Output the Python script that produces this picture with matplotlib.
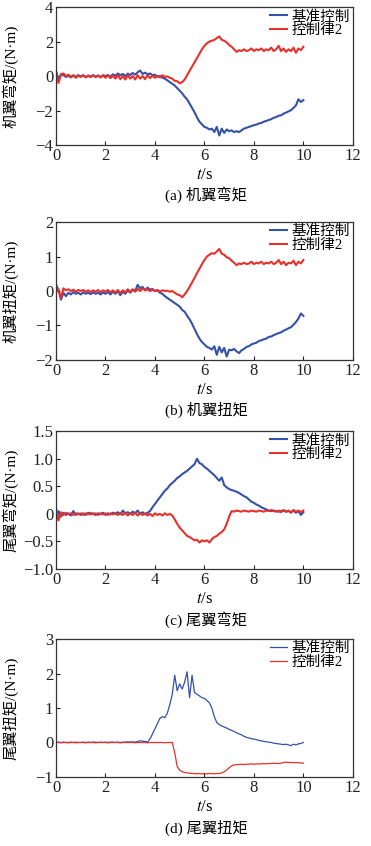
import numpy as np
import matplotlib
matplotlib.use('Agg')
import matplotlib.pyplot as plt
from matplotlib.ticker import FuncFormatter

plt.rcParams['font.family'] = ['Liberation Serif', 'Noto Sans CJK SC']
plt.rcParams['mathtext.fontset'] = 'stix'
plt.rcParams['font.size'] = 9

t = np.round(np.arange(101) * 0.1, 1)  # sample times, 0..10 s

labels = ['基准控制', '控制律2']
ylabels = ['机翼弯矩/(N·m)', '机翼扭矩/(N·m)', '尾翼弯矩/(N·m)', '尾翼扭矩/(N·m)']
captions = ['(a) 机翼弯矩', '(b) 机翼扭矩', '(c) 尾翼弯矩', '(d) 尾翼扭矩']
yticks_list = [[-4, -2, 0, 2, 4], [-2, -1, 0, 1, 2],
               [-1.0, -0.5, 0, 0.5, 1.0, 1.5], [-1, 0, 1, 2, 3]]

# (a) 机翼弯矩
a_base = [0.30, -0.25, 0.10, 0.05, -0.05, 0.02, -0.08, 0.03, -0.04, 0.05,
          -0.02, 0.04, -0.06, 0.02, -0.03, 0.05, -0.04, 0.03, -0.05, 0.04,
          0.00, 0.06, -0.04, 0.10, 0.02, 0.15, 0.05, 0.12, 0.00, 0.14,
          0.06, 0.18, 0.08, 0.22, 0.32, 0.12, 0.20, 0.10, 0.15, 0.05,
          0.08, -0.02, 0.00, -0.10, -0.15, -0.25, -0.35, -0.45, -0.55, -0.70,
          -0.85, -1.00, -1.20, -1.35, -1.60, -1.85, -2.10, -2.40, -2.65, -2.80,
          -2.95, -3.00, -3.10, -3.05, -3.25, -2.95, -3.45, -3.05, -3.30, -3.10,
          -3.20, -3.15, -3.25, -3.20, -3.25, -3.15, -3.05, -3.00, -2.95, -2.90,
          -2.85, -2.82, -2.75, -2.72, -2.65, -2.60, -2.55, -2.50, -2.42, -2.38,
          -2.30, -2.28, -2.18, -2.12, -2.05, -1.98, -1.85, -1.70, -1.35, -1.50,
          -1.40]
a_law2 = [0.20, -0.40, 0.10, 0.15, 0.00, 0.08, -0.05, 0.05, -0.10, 0.02,
          -0.05, 0.05, -0.08, 0.03, -0.06, 0.04, -0.05, 0.02, -0.08, 0.05,
          -0.10, 0.04, -0.12, 0.02, -0.15, 0.05, -0.18, 0.00, -0.20, 0.05,
          -0.15, 0.00, -0.20, 0.05, -0.15, 0.00, -0.18, 0.05, -0.12, 0.02,
          -0.10, 0.00, -0.08, 0.05, -0.05, -0.02, -0.10, -0.15, -0.28, -0.30,
          -0.42, -0.35, -0.20, 0.05, 0.30, 0.55, 0.80, 1.05, 1.30, 1.55,
          1.75, 1.90, 2.00, 2.05, 2.10, 2.20, 2.30, 2.10, 2.05, 1.95,
          1.80, 1.70, 1.55, 1.40, 1.50, 1.45, 1.55, 1.45, 1.50, 1.60,
          1.45, 1.55, 1.50, 1.60, 1.45, 1.55, 1.50, 1.65, 1.45, 1.55,
          1.75, 1.45, 1.60, 1.40, 1.55, 1.45, 1.65, 1.35, 1.60, 1.50,
          1.70]

# (b) 机翼扭矩
b_base = [0.15, 0.05, -0.25, -0.05, -0.15, -0.05, -0.10, -0.03, -0.08, -0.05,
          -0.10, -0.04, -0.08, -0.05, -0.09, -0.04, -0.08, -0.05, -0.10, -0.04,
          -0.08, -0.03, -0.10, -0.02, -0.08, 0.00, -0.12, -0.02, -0.08, 0.02,
          -0.05, 0.05, 0.00, 0.18, 0.08, 0.12, 0.02, 0.10, 0.04, 0.06,
          0.00, 0.02, -0.05, -0.08, -0.15, -0.20, -0.25, -0.30, -0.35, -0.40,
          -0.45, -0.55, -0.60, -0.72, -0.82, -0.95, -1.10, -1.25, -1.38, -1.48,
          -1.55, -1.62, -1.65, -1.70, -1.60, -1.85, -1.62, -1.78, -1.65, -1.90,
          -1.70, -1.72, -1.68, -1.75, -1.80, -1.72, -1.68, -1.62, -1.60, -1.55,
          -1.52, -1.50, -1.45, -1.43, -1.40, -1.38, -1.33, -1.32, -1.28, -1.25,
          -1.22, -1.20, -1.15, -1.12, -1.08, -1.05, -0.98, -0.90, -0.80, -0.65,
          -0.72]
b_law2 = [0.20, 0.00, -0.20, 0.08, 0.02, 0.05, 0.00, 0.04, -0.02, 0.03,
          0.00, 0.03, -0.02, 0.02, -0.03, 0.02, -0.02, 0.03, -0.03, 0.02,
          -0.02, 0.03, -0.04, 0.02, -0.05, 0.03, -0.06, 0.02, -0.04, 0.05,
          -0.03, 0.04, -0.02, 0.06, 0.00, 0.08, 0.02, 0.05, 0.00, 0.04,
          0.00, 0.03, -0.02, 0.02, 0.00, 0.01, -0.02, 0.00, -0.05, -0.10,
          -0.12, -0.18, -0.10, 0.00, 0.12, 0.25, 0.38, 0.52, 0.65, 0.78,
          0.90, 1.00, 1.05, 1.10, 1.08, 1.15, 1.22, 1.08, 1.05, 0.98,
          0.95, 0.88, 0.82, 0.75, 0.80, 0.78, 0.82, 0.78, 0.80, 0.85,
          0.78, 0.82, 0.80, 0.85, 0.78, 0.82, 0.80, 0.85, 0.78, 0.82,
          0.90, 0.78, 0.85, 0.75, 0.82, 0.80, 0.88, 0.75, 0.85, 0.80,
          0.90]

# (c) 尾翼弯矩
c_base = [-0.12, 0.05, -0.05, 0.02, -0.02, 0.01, -0.03, 0.05, -0.02, 0.01,
          -0.02, 0.01, -0.02, 0.02, -0.01, 0.01, -0.02, 0.01, -0.01, 0.02,
          -0.02, 0.01, -0.01, 0.02, 0.00, 0.03, -0.01, 0.06, 0.01, 0.03,
          0.00, 0.04, 0.01, 0.06, 0.00, 0.03, -0.01, 0.02, 0.05, 0.12,
          0.18, 0.24, 0.30, 0.36, 0.42, 0.46, 0.52, 0.56, 0.60, 0.65,
          0.68, 0.72, 0.75, 0.78, 0.82, 0.86, 0.90, 1.00, 0.92, 0.90,
          0.85, 0.82, 0.78, 0.74, 0.70, 0.65, 0.60, 0.66, 0.52, 0.48,
          0.45, 0.43, 0.42, 0.40, 0.38, 0.35, 0.32, 0.30, 0.26, 0.22,
          0.20, 0.17, 0.15, 0.12, 0.10, 0.08, 0.06, 0.05, 0.06, 0.05,
          0.04, 0.05, 0.06, 0.04, 0.05, 0.03, 0.06, 0.02, 0.05, -0.02,
          0.03]
c_law2 = [0.10, -0.12, 0.03, -0.02, 0.02, -0.01, 0.01, -0.02, 0.01, -0.01,
          0.01, -0.02, 0.01, -0.01, 0.02, -0.01, 0.01, -0.02, 0.01, -0.01,
          0.01, -0.02, 0.01, -0.01, 0.01, -0.02, 0.01, -0.02, 0.02, -0.03,
          0.01, -0.02, 0.02, -0.03, 0.01, -0.02, 0.01, -0.03, 0.00, -0.04,
          0.01, -0.02, 0.00, -0.03, 0.01, -0.02, 0.00, -0.03, -0.10, -0.18,
          -0.25, -0.30, -0.35, -0.40, -0.42, -0.45, -0.48, -0.47, -0.52, -0.48,
          -0.50, -0.48, -0.52, -0.46, -0.42, -0.40, -0.36, -0.33, -0.28, -0.18,
          -0.05, 0.05, 0.04, 0.06, 0.05, 0.04, 0.06, 0.05, 0.04, 0.06,
          0.05, 0.04, 0.06, 0.05, 0.04, 0.06, 0.05, 0.07, 0.05, 0.04,
          0.06, 0.03, 0.07, 0.04, 0.06, 0.02, 0.07, 0.04, 0.06, 0.03,
          0.06]

# (d) 尾翼扭矩
d_base = [0.00, 0.01, 0.00, 0.01, 0.00, 0.00, 0.01, 0.00, 0.01, 0.00,
          0.00, 0.01, 0.00, 0.01, 0.00, 0.01, 0.01, 0.00, 0.01, 0.00,
          0.01, 0.00, 0.01, 0.01, 0.00, 0.01, 0.00, 0.01, 0.01, 0.02,
          0.01, 0.02, 0.01, 0.03, 0.05, 0.04, 0.03, 0.02, 0.10, 0.25,
          0.40, 0.55, 0.70, 0.75, 0.72, 0.85, 1.10, 1.40, 1.95, 1.50,
          1.70, 1.55, 1.75, 2.05, 1.30, 1.95, 1.45, 1.40, 1.35, 1.30,
          1.28, 1.22, 1.15, 1.00, 0.75, 0.58, 0.52, 0.48, 0.45, 0.42,
          0.38, 0.35, 0.32, 0.28, 0.25, 0.22, 0.18, 0.15, 0.13, 0.11,
          0.10, 0.08, 0.06, 0.05, 0.03, 0.02, 0.01, 0.00, -0.02, -0.03,
          -0.04, -0.05, -0.06, -0.05, -0.07, -0.09, -0.05, -0.07, -0.04, -0.03,
          0.00]
d_law2 = [0.00, 0.00, -0.01, 0.00, 0.00, -0.01, 0.00, 0.00, -0.01, 0.00,
          0.00, 0.00, -0.01, 0.00, 0.00, 0.00, -0.01, 0.00, 0.00, 0.00,
          0.00, -0.01, 0.00, 0.00, 0.00, 0.00, -0.01, 0.00, 0.00, 0.00,
          0.00, 0.00, -0.01, 0.00, 0.00, 0.00, 0.00, -0.01, 0.00, 0.00,
          0.00, 0.00, 0.00, 0.00, -0.01, 0.00, 0.00, 0.00, -0.30, -0.70,
          -0.80, -0.85, -0.87, -0.88, -0.89, -0.90, -0.90, -0.91, -0.90, -0.91,
          -0.90, -0.91, -0.90, -0.90, -0.91, -0.90, -0.90, -0.88, -0.85, -0.80,
          -0.73, -0.68, -0.65, -0.64, -0.64, -0.63, -0.64, -0.63, -0.63, -0.62,
          -0.63, -0.62, -0.62, -0.62, -0.61, -0.62, -0.61, -0.61, -0.60, -0.61,
          -0.61, -0.60, -0.58, -0.57, -0.58, -0.58, -0.59, -0.58, -0.59, -0.59,
          -0.60]

series = [(a_base, a_law2), (b_base, b_law2), (c_base, c_law2), (d_base, d_law2)]

blue = '#3352a8'
red = '#e8302c'

fig = plt.figure(figsize=(3.71, 8.46), dpi=100)

bottoms = [0.8286, 0.5745, 0.3274, 0.0816]
cap_y = [0.7695, 0.5154, 0.2671, 0.0213]


def c_fmt(v, pos):
    if abs(v) < 1e-9:
        return '0'
    return '%.1f' % v if v >= 0 else '\u2212%.1f' % -v


for i in range(4):
    ax = fig.add_axes([0.151, bottoms[i], 0.80, 0.163])
    lw = 1.5 if i < 3 else 0.9
    ax.plot(t, series[i][0], color=blue, lw=lw, label=labels[0])
    ax.plot(t, series[i][1], color=red, lw=lw, label=labels[1])
    ax.set_xlim(0, 12)
    ax.set_xticks([0, 2, 4, 6, 8, 10, 12])
    yt = yticks_list[i]
    ax.set_ylim(yt[0], yt[-1])
    ax.set_yticks(yt)
    if i == 2:
        ax.yaxis.set_major_formatter(FuncFormatter(c_fmt))
    ax.tick_params(direction='in', length=3, width=0.8, labelsize=12, pad=2,
                   colors='#222222')
    for s in ax.spines.values():
        s.set_color('#333333')
        s.set_linewidth(0.9)
    ax.set_ylabel(ylabels[i], fontsize=11)
    ax.yaxis.set_label_coords(-0.125, 0.5)
    ax.set_xlabel('$t$/s', fontsize=12, labelpad=2)
    ax.legend(loc='upper right', frameon=False, fontsize=10.5, handlelength=1.2,
              handletextpad=0.3, labelspacing=0.05, borderaxespad=0.1,
              borderpad=0.1)
    fig.text(0.555, cap_y[i], captions[i], ha='center', va='center', fontsize=11)

fig.savefig('out.png', dpi=100)
